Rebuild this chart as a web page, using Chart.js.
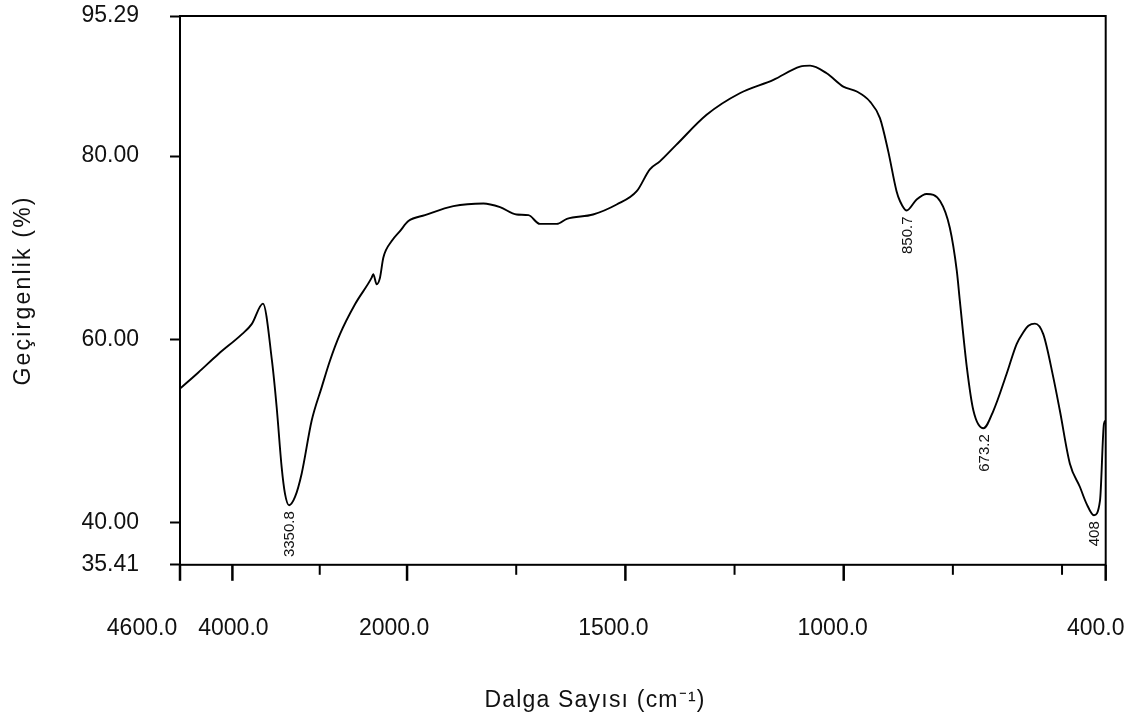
<!DOCTYPE html>
<html>
<head>
<meta charset="utf-8">
<title>FTIR</title>
<script src="https://cdn.jsdelivr.net/npm/chart.js@4.4.0/dist/chart.umd.min.js"></script>
<style>
  html, body { margin: 0; padding: 0; background: #fff; }
</style>
</head>
<body>
<canvas id="myChart" width="1131" height="718"></canvas>
<script>
// spectrum: wavenumber (cm-1) / transmittance (%)
var wavenumber = [4600, 4390, 4160, 3890, 3779, 3650, 3547, 3493, 3436, 3398,
  3351, 3283, 3207, 3092, 2978, 2883, 2768, 2596, 2405, 2387,
  2348, 2310, 2272, 2176, 2081, 1997, 1959, 1894, 1825, 1787,
  1749, 1722, 1696, 1657, 1634, 1574, 1520, 1474, 1444, 1421,
  1383, 1314, 1238, 1161, 1100, 1077, 1039, 1001, 970, 940,
  917, 898, 879, 871, 856, 833, 810, 779, 757, 741,
  734, 718, 703, 680, 657, 627, 604, 589, 577, 562,
  543, 520, 505, 482, 459, 444, 427, 413, 404, 400];
var transmittance = [54.63, 56.40, 58.41, 60.58, 61.67, 63.91, 57.68, 52.60, 46.07, 43.18,
  41.91, 42.81, 45.35, 51.15, 54.77, 57.68, 60.58, 63.84, 66.74, 67.11,
  66.02, 66.74, 68.91, 70.73, 71.82, 72.91, 73.56, 74.54, 74.83, 74.43,
  73.63, 73.56, 72.61, 72.61, 73.16, 73.63, 74.72, 76.17, 78.56, 79.43,
  81.25, 84.51, 86.86, 88.32, 89.76, 89.87, 89.04, 87.59, 87.05, 85.96,
  84.14, 80.52, 76.17, 75.08, 74.07, 75.27, 75.87, 75.08, 72.18, 67.47,
  64.20, 56.95, 52.24, 50.31, 52.24, 56.23, 59.49, 60.76, 61.49, 61.73,
  60.58, 55.86, 52.24, 46.44, 43.90, 42.09, 40.82, 42.45, 50.79, 51.15];

var xTicks = [4600, 4000, 3000, 2000, 1750, 1500, 1250, 1000, 750, 500, 400];
var xLabelled = [4600, 4000, 2000, 1500, 1000, 400];
var yTicks = [35.41, 40, 60, 80, 95.29];

var peakAt = [3351, 856, 680, 427];
var peakText = ['3350.8', '850.7', '673.2', '408'];

var FONT = "'Liberation Sans', Arial, sans-serif";

// above 2000 cm-1 the axis is compressed 5x
function toAxis(w) {
  return w <= 2000 ? w : 2000 + (w - 2000) / 5;
}

// label nudges (px) like in the original print
var labelShift = {4600: -38, 4000: 1, 2000: -13, 1500: -12, 1000: -11, 400: -10};

var decor = {
  id: 'decor',
  afterDraw: function(chart) {
    var ctx = chart.ctx, a = chart.chartArea;
    var xs = chart.scales.x, ys = chart.scales.y;
    ctx.save();
    ctx.strokeStyle = '#000';
    ctx.fillStyle = '#111';
    ctx.lineWidth = 2;
    ctx.strokeRect(a.left, a.top, a.right - a.left, a.bottom - a.top);

    ctx.font = '23px ' + FONT;
    ctx.textAlign = 'center';
    ctx.textBaseline = 'alphabetic';
    xTicks.forEach(function(w) {
      var px = xs.getPixelForValue(toAxis(w));
      var major = xLabelled.indexOf(w) >= 0;
      ctx.lineWidth = major ? 2.5 : 2;
      ctx.beginPath();
      ctx.moveTo(px, a.bottom);
      ctx.lineTo(px, a.bottom + (major ? 16 : 10));
      ctx.stroke();
      if (major) {
        ctx.fillText(w.toFixed(1), px + labelShift[w], a.bottom + 70);
      }
    });

    // axis titles
    if ('letterSpacing' in ctx) ctx.letterSpacing = '1.2px';
    ctx.fillText('Dalga Sayısı (cm\u207B\u00B9)', a.left + 415, a.bottom + 142);
    ctx.save();
    if ('letterSpacing' in ctx) ctx.letterSpacing = '2.2px';
    ctx.translate(30, (a.top + a.bottom) / 2);
    ctx.rotate(-Math.PI / 2);
    ctx.fillText('Geçirgenlik (%)', 0, 0);
    ctx.restore();
    if ('letterSpacing' in ctx) ctx.letterSpacing = '0px';

    // peak labels
    ctx.font = '15px ' + FONT;
    ctx.textAlign = 'right';
    ctx.textBaseline = 'middle';
    for (var i = 0; i < peakAt.length; i++) {
      var k = wavenumber.indexOf(peakAt[i]);
      var px2 = xs.getPixelForValue(toAxis(peakAt[i]));
      var py2 = ys.getPixelForValue(transmittance[k]);
      ctx.save();
      ctx.translate(px2 + 1, py2 + 6);
      ctx.rotate(-Math.PI / 2);
      ctx.fillText(peakText[i], 0, 0);
      ctx.restore();
    }
    ctx.restore();
  }
};

var points = wavenumber.map(function(w, i) {
  return {x: toAxis(w), y: transmittance[i]};
});

var ctx = document.getElementById('myChart');
var myChart = new Chart(ctx, {
  type: 'line',
  data: {
    datasets: [{
      label: 'FTIR',
      data: points,
      borderColor: '#000',
      borderWidth: 1.9,
      pointRadius: 0,
      cubicInterpolationMode: 'monotone',
      fill: false
    }]
  },
  options: {
    responsive: false,
    animation: false,
    layout: {padding: {left: 0, right: 25.3, top: 16, bottom: 153.2}},
    plugins: {legend: {display: false}, tooltip: {enabled: false}},
    scales: {
      x: {
        type: 'linear',
        display: false,
        reverse: true,
        min: toAxis(400),
        max: toAxis(4600)
      },
      y: {
        type: 'linear',
        min: 35.41,
        max: 95.29,
        afterBuildTicks: function(s) {
          s.ticks = yTicks.map(function(v) { return {value: v}; });
        },
        afterFit: function(s) {
          s.width = 180;
          s.paddingTop = 0;
          s.paddingBottom = 0;
        },
        border: {display: false},
        grid: {
          drawOnChartArea: false,
          drawTicks: true,
          tickLength: 10,
          tickWidth: 2,
          tickColor: '#000'
        },
        ticks: {
          padding: 31,
          color: '#111',
          font: {family: FONT, size: 23},
          callback: function(v) { return Number(v).toFixed(2); }
        }
      }
    }
  },
  plugins: [decor]
});
</script>
</body>
</html>
